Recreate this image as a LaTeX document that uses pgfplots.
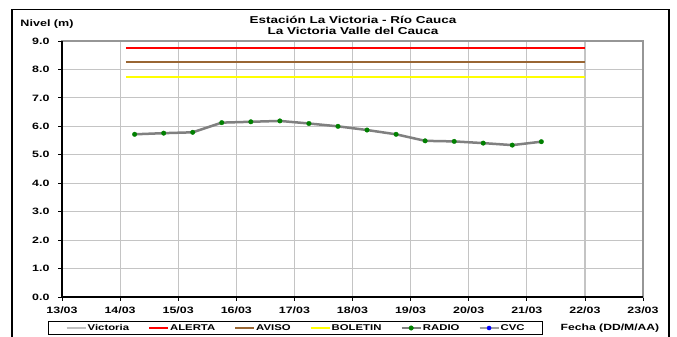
\documentclass[border=0pt]{standalone}
\usepackage{fontspec}
\setmainfont{Liberation Sans}[FakeStretch=1.35]
\usepackage{pgfplots}
\pgfplotsset{compat=1.18}
\definecolor{gridc}{RGB}{196,196,196}
\definecolor{bordc}{RGB}{150,150,150}
\definecolor{radioline}{RGB}{128,128,128}
\definecolor{radiomark}{RGB}{0,128,0}
\definecolor{avisoc}{RGB}{153,102,51}
\definecolor{boletinc}{RGB}{255,255,0}
\definecolor{alertac}{RGB}{255,0,0}
\definecolor{victc}{RGB}{192,192,192}
\definecolor{cvcline}{RGB}{160,160,160}
\definecolor{cvcmark}{RGB}{0,0,255}
\begin{document}
\begin{tikzpicture}[x=1pt,y=1pt]
\useasboundingbox (0,0) rectangle (677,337);
\fill[white] (0,0) rectangle (677,337);
\draw[line width=1.8pt] (12,-5) -- (12,327.5) -- (669,327.5) -- (669,-5);
\node[font=\fontsize{10}{11}\selectfont\bfseries, align=center] at (353,311.5) {Estación La Victoria - Río Cauca\\La Victoria Valle del Cauca};
\node[font=\fontsize{9.3}{10}\selectfont\bfseries] at (47,313) {Nivel (m)};
\node[font=\fontsize{9}{10}\selectfont\bfseries] at (610,9) {Fecha (DD/M/AA)};
\begin{axis}[
  at={(62pt,40pt)}, anchor=south west, scale only axis,
  width=581pt, height=256pt,
  xmin=13, xmax=23, ymin=0, ymax=9,
  xtick={13,14,15,16,17,18,19,20,21,22,23},
  xticklabels={13/03,14/03,15/03,16/03,17/03,18/03,19/03,20/03,21/03,22/03,23/03},
  ytick={0,1,2,3,4,5,6,7,8,9},
  yticklabel style={/pgf/number format/.cd, fixed, fixed zerofill, precision=1, /tikz/.cd, xshift=-5pt},
  xticklabel style={yshift=-2.5pt},
  /pgf/number format/assume math mode=true,
  ticklabel style={font=\fontsize{9.2}{10}\selectfont\bfseries},
  grid=major, major grid style={gridc, line width=1.2pt},
  axis line style={draw=bordc, line width=1.8pt},
  tick align=outside, xtick pos=bottom, ytick pos=left,
  major tick length=4pt, tick style={black, line width=0.8pt},
  clip=false,
  legend columns=6,
  legend cell align=left,
  legend style={at={(-0.0241,-0.0926)}, anchor=north west, draw=black, line width=1pt,
    font=\fontsize{8.4}{9}\selectfont\bfseries, inner ysep=1.5pt, inner xsep=17pt,
    nodes={inner xsep=1pt, inner ysep=1.5pt},
    /tikz/every even column/.append style={column sep=18pt}},
  legend image code/.code={\draw[mark repeat=2,mark phase=2,#1] plot coordinates {(0pt,0pt) (9.5pt,0pt) (19pt,0pt)};},
]
\addlegendimage{draw=victc, fill=none, line width=2.2pt}
\addlegendentry{Victoria}
\addplot[draw=alertac, fill=none, line width=2pt] table {
x y
14.1 8.75
22 8.75
};
\addlegendentry{ALERTA}
\addplot[draw=avisoc, fill=none, line width=2pt] table {
x y
14.1 8.25
22 8.25
};
\addlegendentry{AVISO}
\addplot[draw=boletinc, fill=none, line width=2pt] table {
x y
14.1 7.75
22 7.75
};
\addlegendentry{BOLETIN}
\addplot[radioline, line width=2.5pt, mark=*, mark size=2.3pt, mark options={draw=radiomark, fill=radiomark, line width=0.3pt}] coordinates {
(14.25,5.72) (14.75,5.76) (15.25,5.79) (15.75,6.13) (16.25,6.16) (16.75,6.19)
(17.25,6.10) (17.75,6.00) (18.25,5.87) (18.75,5.72) (19.25,5.49) (19.75,5.47)
(20.25,5.41) (20.75,5.34) (21.25,5.46)};
\addlegendentry{RADIO}
\addlegendimage{cvcline, line width=2.2pt, mark=*, mark size=2.1pt, mark options={draw=cvcmark, fill=cvcmark, line width=0.3pt}}
\addlegendentry{CVC}
\draw[black, line width=1.5pt] (rel axis cs:0,1) -- (rel axis cs:0,0) -- (rel axis cs:1,0);
\end{axis}
\end{tikzpicture}
\end{document}
